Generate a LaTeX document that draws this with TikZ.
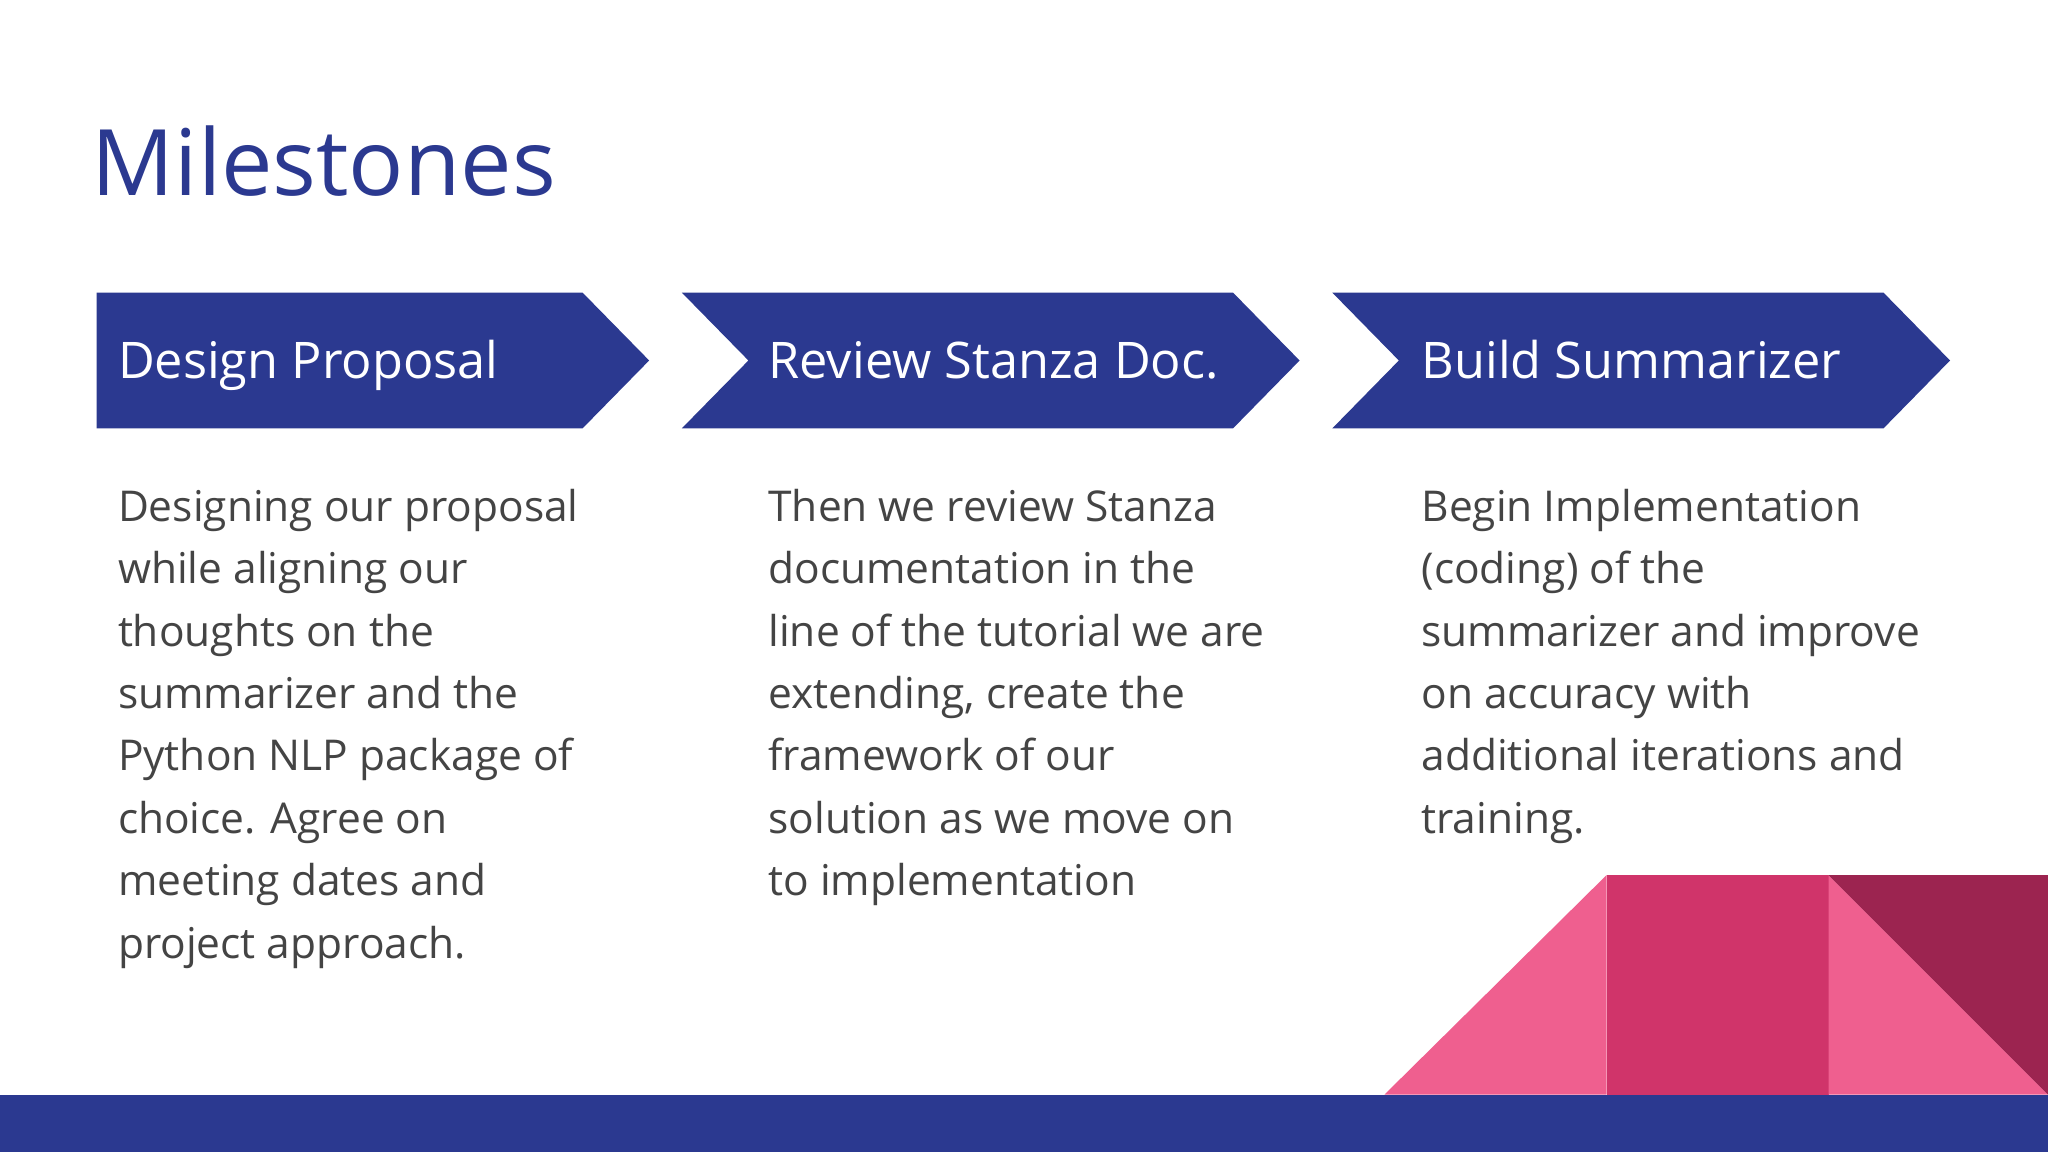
\documentclass[tikz,border=0pt]{standalone}
\usepackage{fontspec}
\setmainfont{Open Sans}
\definecolor{navy}{HTML}{2B3990}
\definecolor{txt}{HTML}{444444}
\definecolor{pinkA}{HTML}{EF5F8F}
\definecolor{pinkB}{HTML}{D0346A}
\definecolor{pinkC}{HTML}{9C2450}
\begin{document}
\begin{tikzpicture}[x=0.02cm,y=-0.02cm,
  chev/.style={fill=navy,draw=none},
  head/.style={anchor=base west,text=white,font=\fontsize{22}{26}\selectfont,inner sep=0},
  body/.style={anchor=north west,text=txt,font=\fontsize{18.5}{27.2}\selectfont,align=left,inner sep=0}]
\useasboundingbox (0,0) rectangle (1568,882);
\fill[white] (0,0) rectangle (1568,882);
\node[anchor=base west,text=navy,font=\fontsize{40}{48}\selectfont,inner sep=0] (title) at (70,150) {Milestones};
\fill[chev] (74,224) -- (446,224) -- (497,276) -- (446,328) -- (74,328) -- cycle;
\fill[chev] (522,224) -- (944,224) -- (995,276) -- (944,328) -- (522,328) -- (573,276) -- cycle;
\fill[chev] (1020,224) -- (1442,224) -- (1493,276) -- (1442,328) -- (1020,328) -- (1071,276) -- cycle;
\node[head] (h1) at (90,290) {Design Proposal};
\node[head] (h2) at (588,290) {Review Stanza Doc.};
\node[head] (h3) at (1088,290) {Build Summarizer};
\node[body] (b1) at (90,374) {Designing our proposal\\while aligning our\\thoughts on the\\summarizer and the\\Python NLP package of\\choice. Agree on\\meeting dates and\\project approach.};
\node[body] (b2) at (588,374) {Then we review Stanza\\documentation in the\\line of the tutorial we are\\extending, create the\\framework of our\\solution as we move on\\to implementation};
\node[body] (b3) at (1088,374) {Begin Implementation\\(coding) of the\\summarizer and improve\\on accuracy with\\additional iterations and\\training.};
\fill[pinkA] (1060,838) -- (1230,670) -- (1230,838) -- cycle;
\fill[pinkB] (1230,670) rectangle (1400,838);
\fill[pinkA] (1400,670) -- (1568,838) -- (1400,838) -- cycle;
\fill[pinkC] (1400,670) -- (1568,670) -- (1568,838) -- cycle;
\fill[navy] (0,838) rectangle (1568,882);
\end{tikzpicture}
\end{document}
